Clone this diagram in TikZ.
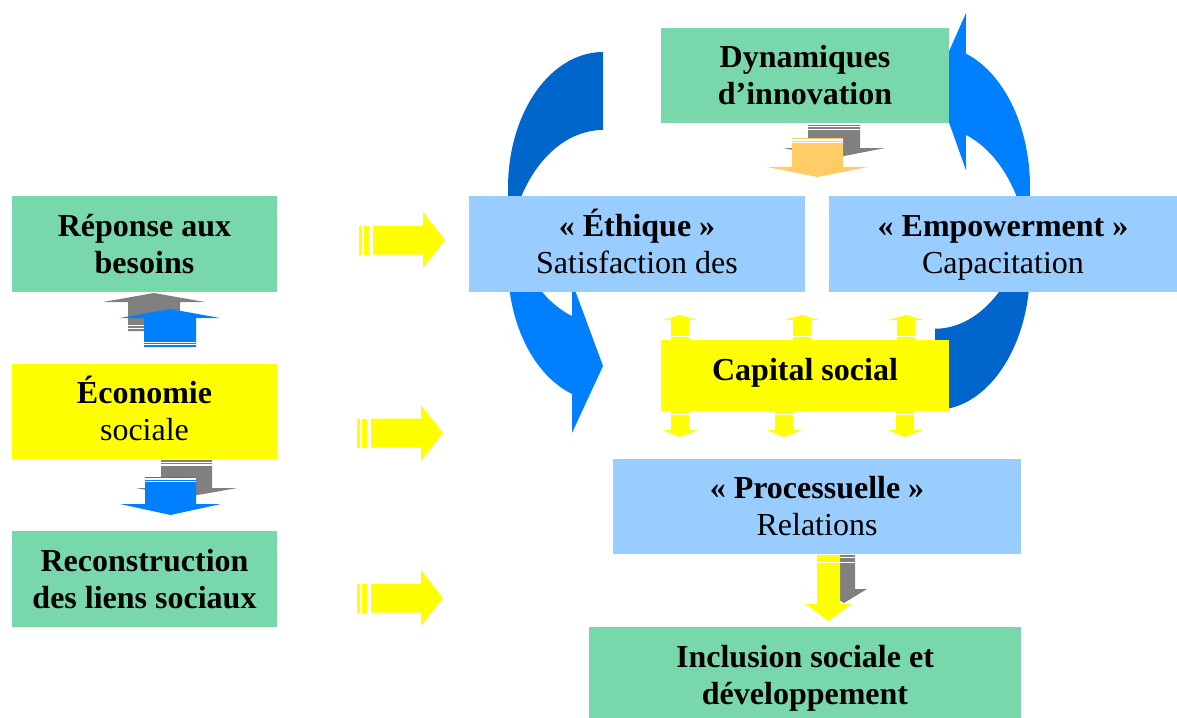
\documentclass[tikz,border=0pt]{standalone}
\usepackage{fontspec}
\setmainfont{Liberation Serif}
\definecolor{boxgreen}{RGB}{120,216,172}
\definecolor{paleblue}{RGB}{153,204,255}
\definecolor{boxyellow}{RGB}{255,255,0}
\definecolor{deepblue}{RGB}{0,102,204}
\definecolor{brightblue}{RGB}{0,128,255}
\definecolor{softorange}{RGB}{255,204,102}
\definecolor{midgray}{RGB}{128,128,128}

% vertical block arrow: colour, x centre, y tail, y head base, y tip, body half width, head half width
\newcommand\vblockarrow[7]{%
  \fill[#1] (#2-#6,#3) -- (#2+#6,#3) -- (#2+#6,#4) -- (#2+#7,#4) -- (#2,#5)
            -- (#2-#7,#4) -- (#2-#6,#4) -- cycle;}
% white stripe across an arrow body: x centre, y, half width, thickness
\newcommand\whitestripe[4]{%
  \fill[white] (#1-#3,#2) rectangle (#1+#3,#2+#4);}
% striped yellow arrow pointing right: x of the first stripe, y centre
\newcommand\rightstriped[2]{%
  \fill[boxyellow] (#1,#2-14.5) rectangle (#1+3,#2+14.5);
  \fill[boxyellow] (#1+5,#2-14.5) rectangle (#1+10,#2+14.5);
  \fill[boxyellow] (#1+14,#2-14.5) -- (#1+64,#2-14.5) -- (#1+64,#2-28)
     -- (#1+86,#2) -- (#1+64,#2+28) -- (#1+64,#2+14.5) -- (#1+14,#2+14.5) -- cycle;}
% curved band with its arrowhead (upper part darker)
\newcommand\curvedband{%
  \fill[brightblue]
    plot[domain=196.7:109, samples=60, variable=\t] ({603+95*cos(\t)},{265.7+135.7*sin(\t)})
    -- (572,433) -- (603,366) -- (572,282)
    -- plot[domain=109:163.3, samples=40, variable=\t] ({603+95*cos(\t)},{187.7+135.7*sin(\t)})
    -- cycle;
  \fill[deepblue]
    plot[domain=270:163.3, samples=60, variable=\t] ({603+95*cos(\t)},{187.7+135.7*sin(\t)})
    -- plot[domain=196.7:270, samples=60, variable=\t] ({603+95*cos(\t)},{265.7+135.7*sin(\t)})
    -- cycle;}

\begin{document}
\begin{tikzpicture}[x=1pt,y=-1pt,
  box/.style={inner sep=0pt, outer sep=0pt, align=center,
    font=\fontsize{32}{37}\selectfont, text height=62pt, text depth=4pt},
  greenbox/.style={box, fill=boxgreen},
  bluebox/.style={box, fill=paleblue},
  yellowbox/.style={box, fill=boxyellow}]
\useasboundingbox (0,0) rectangle (1177,717);

% circular arrows behind the boxes
\curvedband
\begin{scope}[shift={(1538,464.2)}, xscale=-1, yscale=-1.042]
  \curvedband
\end{scope}

% left column
\node[greenbox, minimum width=265pt, minimum height=96pt] (rep) at (144.5,244)
  {\bfseries Réponse aux\\\bfseries besoins};
\node[yellowbox, minimum width=265pt, minimum height=95pt] (eco) at (144.5,411.5)
  {\bfseries Économie\\sociale};
\node[greenbox, minimum width=265pt, minimum height=96pt] (rec) at (144.5,579)
  {\bfseries Reconstruction\\\bfseries des liens sociaux};

% right part
\node[greenbox, minimum width=288pt, minimum height=95pt] (dyn) at (805,75.5)
  {\bfseries Dynamiques\\\bfseries d’innovation};
\node[bluebox, minimum width=336pt, minimum height=96pt] (eth) at (637,244)
  {\bfseries « Éthique »\\Satisfaction des};
\node[bluebox, minimum width=348pt, minimum height=96pt] (emp) at (1003,244)
  {\bfseries « Empowerment »\\Capacitation};
\node[yellowbox, minimum width=288pt, minimum height=71pt, text height=20pt, text depth=10pt]
  (cap) at (805,375.5) {\bfseries Capital social};
\node[bluebox, minimum width=408pt, minimum height=95pt] (pro) at (817,506.5)
  {\bfseries « Processuelle »\\Relations};
\node[greenbox, minimum width=432pt, minimum height=96pt] (inc) at (805,675)
  {\bfseries Inclusion sociale et\\\bfseries développement};

% yellow striped arrows towards the right part
\rightstriped{359}{240}
\rightstriped{357}{433}
\rightstriped{357}{598}

% up arrows between the first two boxes
\vblockarrow{midgray}{154}{331}{302}{293}{26}{51}
\whitestripe{154}{324.5}{26}{1.2}
\whitestripe{154}{327.5}{26}{1.2}
\vblockarrow{brightblue}{170}{347}{318}{309}{26}{50}
\whitestripe{170}{341.5}{26}{1.2}
\whitestripe{170}{344}{26}{1.2}

% down arrows between the last two boxes
\vblockarrow{midgray}{186.5}{460}{488}{497}{25.5}{51}
\whitestripe{186.5}{461.8}{25.5}{1.2}
\whitestripe{186.5}{464.3}{25.5}{1.2}
\vblockarrow{brightblue}{170.5}{477}{504}{515}{25.5}{50.5}
\whitestripe{170.5}{478.3}{25.5}{1.2}
\whitestripe{170.5}{480.8}{25.5}{1.2}

% down arrows under the innovation box
\vblockarrow{midgray}{834}{125}{148}{158}{26}{51}
\whitestripe{834}{126.2}{26}{1.2}
\whitestripe{834}{128.7}{26}{1.2}
\vblockarrow{softorange}{817.5}{138}{167}{177}{25.5}{50.5}
\whitestripe{817.5}{139.3}{25.5}{1.2}
\whitestripe{817.5}{141.8}{25.5}{1.2}

% small arrows around the social capital box
\foreach \cx in {680,802,906} {
  \vblockarrow{boxyellow}{\cx}{340}{320}{315}{9}{17.5}
  \whitestripe{\cx}{336}{9}{1}
}
\foreach \cx in {680,784,905} {
  \vblockarrow{boxyellow}{\cx}{411}{430}{437}{9}{17.5}
  \whitestripe{\cx}{414}{9}{1}
}

% down arrows towards the last box
\vblockarrow{midgray}{844}{555}{589}{603}{11}{23}
\whitestripe{844}{557}{11}{1.3}
\whitestripe{844}{561.5}{11}{1.3}
\vblockarrow{boxyellow}{828.5}{555}{604}{621}{11.5}{23}
\whitestripe{828.5}{556.7}{11.5}{1.3}
\whitestripe{828.5}{562}{11.5}{1.3}
\end{tikzpicture}
\end{document}
